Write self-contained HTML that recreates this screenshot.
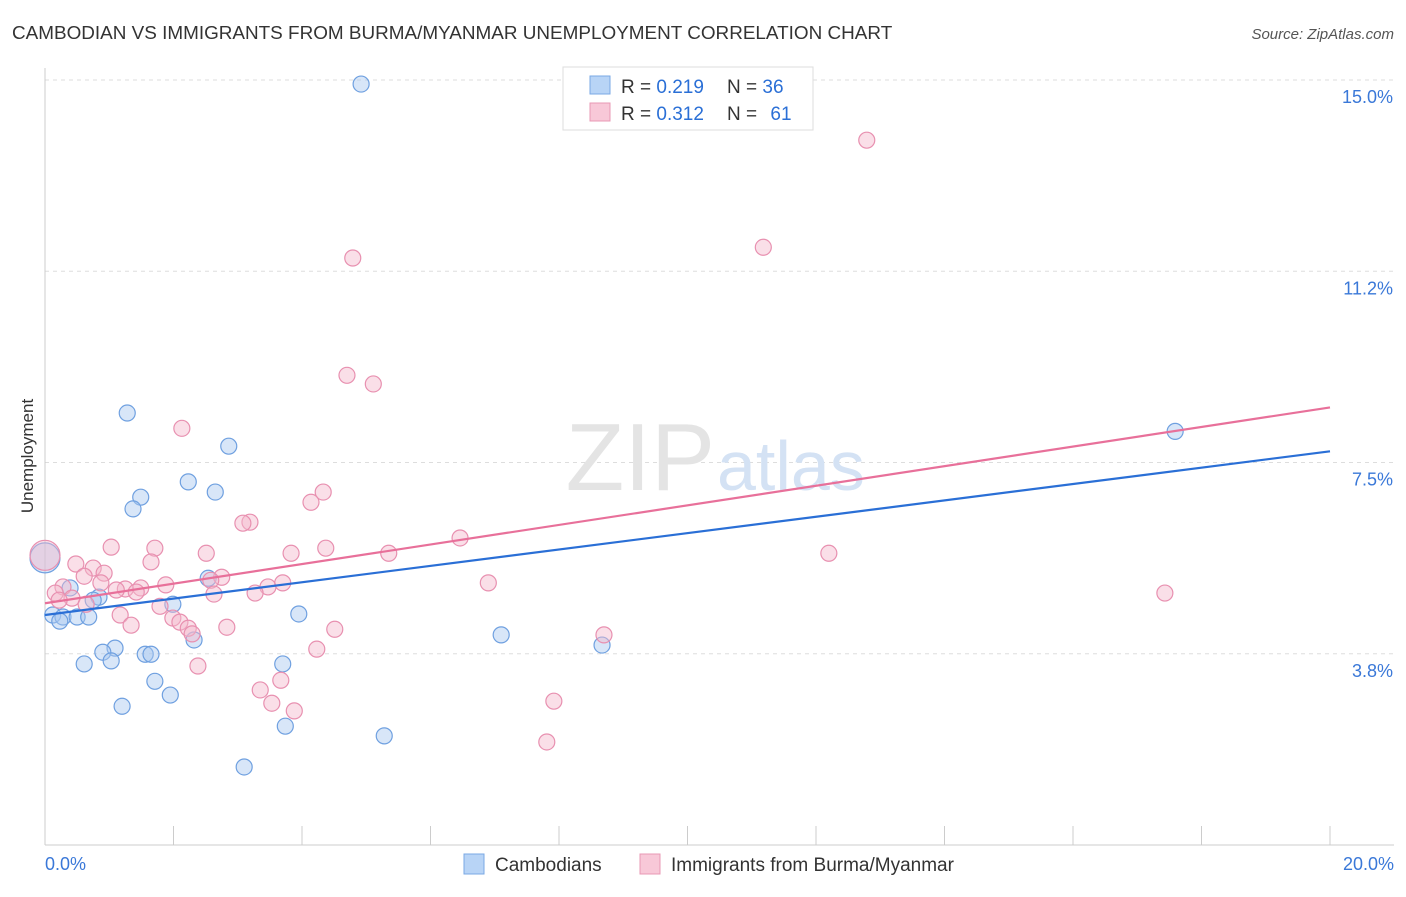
<!DOCTYPE html>
<html><head><meta charset="utf-8"><style>
body{margin:0;background:#fff;font-family:"Liberation Sans",sans-serif;}
svg text{font-family:"Liberation Sans",sans-serif;}
</style></head><body>
<svg id="chart" width="1406" height="892">
<text x="12" y="39" font-size="18.9" fill="#333">CAMBODIAN VS IMMIGRANTS FROM BURMA/MYANMAR UNEMPLOYMENT CORRELATION CHART</text>
<text x="1394" y="39" font-size="15" fill="#555" font-style="italic" text-anchor="end">Source: ZipAtlas.com</text>
<text x="33" y="456" font-size="17" fill="#333" text-anchor="middle" transform="rotate(-90 33 456)">Unemployment</text>
<g id="grid"></g>
<g id="wm"><text x="715" y="490" font-size="96" fill="#e4e4e4" text-anchor="end" font-family="Liberation Serif">ZIP</text><text x="717" y="490" font-size="70" fill="#d4e2f4">atlas</text></g>
<g id="pts"></g>
<g id="lines"></g>
<g>
<rect x="563" y="67" width="250" height="63" fill="#fff" stroke="#ddd"/>
<rect x="590" y="76" width="20" height="18" fill="#b8d4f6" stroke="#7aa8e4"/>
<text x="621" y="93" font-size="19" fill="#333">R = <tspan fill="#2a6fd6">0.219</tspan></text>
<text x="727" y="93" font-size="19" fill="#333">N = <tspan fill="#2a6fd6">36</tspan></text>
<rect x="590" y="103" width="20" height="18" fill="#f8c8d8" stroke="#e898b4"/>
<text x="621" y="120" font-size="19" fill="#333">R = <tspan fill="#2a6fd6">0.312</tspan></text>
<text x="727" y="120" font-size="19" fill="#333">N = <tspan fill="#2a6fd6" dx="8">61</tspan></text>
</g>
<g>
<rect x="464" y="854" width="20" height="20" fill="#b8d4f6" stroke="#7aa8e4"/>
<text x="495" y="871" font-size="19" fill="#333">Cambodians</text>
<rect x="640" y="854" width="20" height="20" fill="#f8c8d8" stroke="#e898b4"/>
<text x="671" y="871" font-size="19" fill="#333">Immigrants from Burma/Myanmar</text>
</g>
</svg>
<script>
const yTicks=[3.75,7.5,11.25,15];
const yTickLabels=["3.8%","7.5%","11.2%","15.0%"];
const xTickLabels=["0.0%","20.0%"];
const blueX=[4.92,1.28,2.86,2.23,1.49,2.65,1.37,17.59,0,0.39,0.84,0.75,0.12,0.28,0.50,0.68,0.23,1.99,2.54,3.95,2.32,1.09,0.90,1.56,1.65,1.03,0.61,3.70,7.10,8.67,1.71,1.95,1.20,3.74,5.28,3.10];
const blueY=[14.92,8.47,7.82,7.12,6.82,6.92,6.59,8.11,5.63,5.04,4.86,4.80,4.51,4.47,4.47,4.47,4.39,4.72,5.23,4.53,4.02,3.86,3.78,3.74,3.74,3.61,3.55,3.55,4.12,3.92,3.21,2.94,2.72,2.33,2.14,1.53];
const pinkX=[12.79,11.18,4.79,4.70,5.11,2.13,4.33,4.14,3.19,3.08,1.03,1.71,4.37,6.46,3.83,2.51,5.35,12.20,0,1.65,0.48,0.75,0.92,0.61,6.90,2.75,2.58,0.28,0.87,1.49,1.88,1.25,1.11,1.42,3.47,3.70,3.27,2.63,17.43,0.16,0.42,1.79,0.64,1.17,1.99,2.10,2.23,1.34,2.83,4.51,2.29,8.70,4.23,2.38,3.35,3.67,3.53,3.88,7.92,7.81,0.22];
const pinkY=[13.82,11.72,11.51,9.21,9.04,8.17,6.92,6.72,6.33,6.31,5.84,5.82,5.82,6.02,5.72,5.72,5.72,5.72,5.68,5.55,5.51,5.43,5.33,5.27,5.14,5.25,5.19,5.06,5.14,5.04,5.10,5.02,5.00,4.96,5.06,5.14,4.94,4.92,4.94,4.94,4.84,4.68,4.72,4.51,4.45,4.37,4.25,4.31,4.27,4.23,4.14,4.12,3.84,3.51,3.04,3.23,2.78,2.63,2.82,2.02,4.80];
const blueTrend=[4.51,7.72];
const pinkTrend=[4.74,8.58];
const NS="http://www.w3.org/2000/svg";
const X=v=>45+v/20*1285;
const Y=v=>845-v/15*765;
function mk(tag,attrs,parent){const e=document.createElementNS(NS,tag);for(const k in attrs)e.setAttribute(k,attrs[k]);parent.appendChild(e);return e;}
const grid=document.getElementById('grid');
yTicks.forEach((t,i)=>{
  const l=mk('line',{x1:45,x2:1394,y1:Y(t),y2:Y(t),stroke:'#ddd','stroke-dasharray':'4,4'},grid);
  
  
  const tx=mk('text',{x:1393,y:Y(t)+23,'font-size':18,fill:'#3a78d8','text-anchor':'end'},grid);
  tx.textContent=yTickLabels[i];
  
  
});
const ax=mk('line',{x1:45,x2:45,y1:68,y2:845,stroke:'#ccc'},grid);


const bx=mk('line',{x1:45,x2:1394,y1:845,y2:845,stroke:'#ccc'},grid);


for(let i=0;i<=10;i++){
  const t=mk('line',{x1:X(i*2),x2:X(i*2),y1:826,y2:845,stroke:'#ccc'},grid);
  
  
}
[[0,'start',45],[20,'end',1394]].forEach((d,i)=>{
  const t=mk('text',{x:d[2],y:870,'font-size':18,fill:'#3a78d8','text-anchor':d[1]},grid);
  t.textContent=xTickLabels[i];
  
  
});
const pts=document.getElementById('pts');
function draw(xs,ys,fill,stroke,name){
  xs.forEach((x,i)=>{
    const big=x===0;
    const c=mk('circle',{cx:X(x),cy:Y(ys[i]),r:big?15:8,fill:fill,'fill-opacity':0.45,stroke:stroke,'stroke-width':1.2},pts);
    
    
  });
}
draw(blueX,blueY,'#a8c8f0','#6fa0e0','point-cambodian');
draw(pinkX,pinkY,'#f5b8cc','#e890b0','point-burma');
const lines=document.getElementById('lines');
const lb=mk('line',{x1:X(0),y1:Y(blueTrend[0]),x2:X(20),y2:Y(blueTrend[1]),stroke:'#2a6fd6','stroke-width':2.2},lines);


const lp=mk('line',{x1:X(0),y1:Y(pinkTrend[0]),x2:X(20),y2:Y(pinkTrend[1]),stroke:'#e8709a','stroke-width':2.2},lines);


</script>
</body></html>
